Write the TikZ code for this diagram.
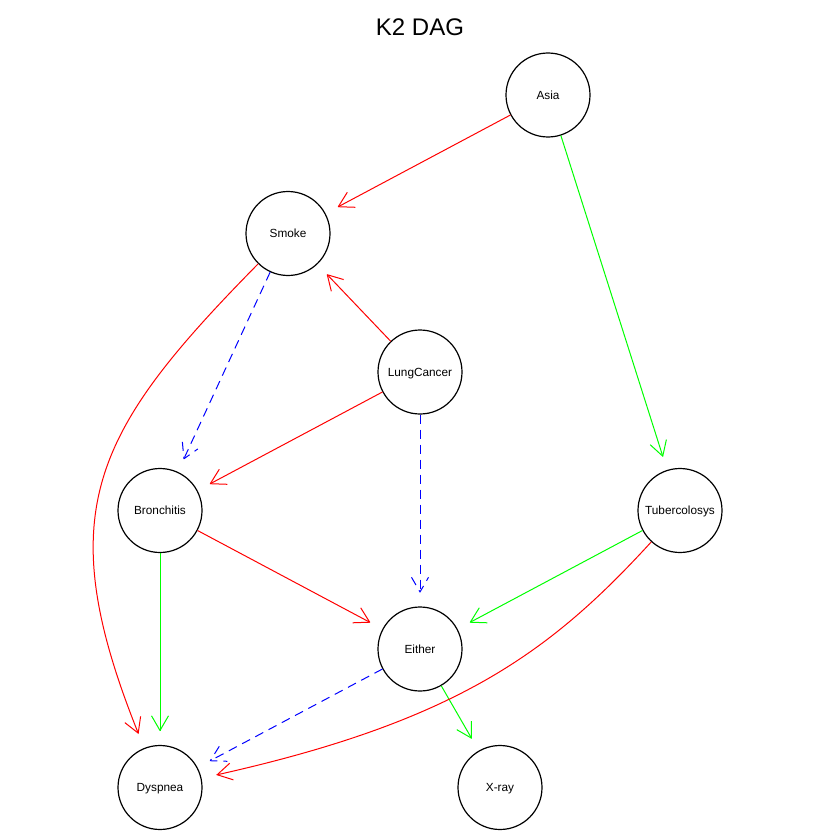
\documentclass[tikz,border=0pt]{standalone}
\usepackage{fontspec}
\setmainfont{Liberation Sans}
\usetikzlibrary{arrows.meta,calc}
\definecolor{edgered}{RGB}{255,0,0}
\definecolor{edgegreen}{RGB}{0,255,0}
\definecolor{edgeblue}{RGB}{0,0,255}

% straight edge with an open V head, 15pt short of the target circle
\newcommand\dagedge[3]{%
  \coordinate (#2#3tip) at ($(#3)!57pt!(#2)$);
  \draw[#1] (#2) -- (#2#3tip);
  \draw[#1, line join=round] ($(#2#3tip)!17pt!30:(#2)$) -- (#2#3tip) -- ($(#2#3tip)!17pt!-30:(#2)$);
}

\begin{document}
\begin{tikzpicture}[x=1pt,y=-1pt,
  var/.style={circle, draw=black, line width=1.2pt, minimum size=84pt, inner sep=0pt,
    font=\fontsize{11.8}{14}\selectfont, text height=8.45pt, text depth=0pt},
  redge/.style={draw=edgered, line width=1pt},
  gedge/.style={draw=edgegreen, line width=1pt},
  bedge/.style={draw=edgeblue, line width=1pt, dash pattern=on 9pt off 6pt},
  barb/.style={-{Straight Barb[length=14.7pt,width=17pt]}, shorten >=15pt}
]
\useasboundingbox (0,0) rectangle (840,840);

\node (title) at (420,27) {\fontsize{24}{28}\selectfont K2 DAG};

\node[var] (asia)   at (548,95)    {Asia};
\node[var] (smoke)  at (288,233.5) {Smoke};
\node[var] (lung)   at (420,372)   {LungCancer};
\node[var] (bronc)  at (160,510.5) {Bronchitis};
\node[var] (tub)    at (680,510.5) {Tubercolosys};
\node[var] (either) at (420,649)   {Either};
\node[var] (dysp)   at (160,787.5) {Dyspnea};
\node[var] (xray)   at (500,787.5) {X-ray};

\dagedge{redge}{asia}{smoke}
\dagedge{gedge}{asia}{tub}
\dagedge{redge}{lung}{smoke}
\dagedge{bedge}{smoke}{bronc}
\dagedge{redge}{lung}{bronc}
\dagedge{bedge}{lung}{either}
\dagedge{redge}{bronc}{either}
\dagedge{gedge}{bronc}{dysp}
\dagedge{gedge}{tub}{either}
\dagedge{bedge}{either}{dysp}
\dagedge{gedge}{either}{xray}

\draw[redge, barb] (smoke) .. controls (93,431.6) and (49.6,512) .. (dysp);
\draw[redge, barb] (tub) .. controls (551,651.5) and (458,721) .. (dysp);
\end{tikzpicture}
\end{document}
